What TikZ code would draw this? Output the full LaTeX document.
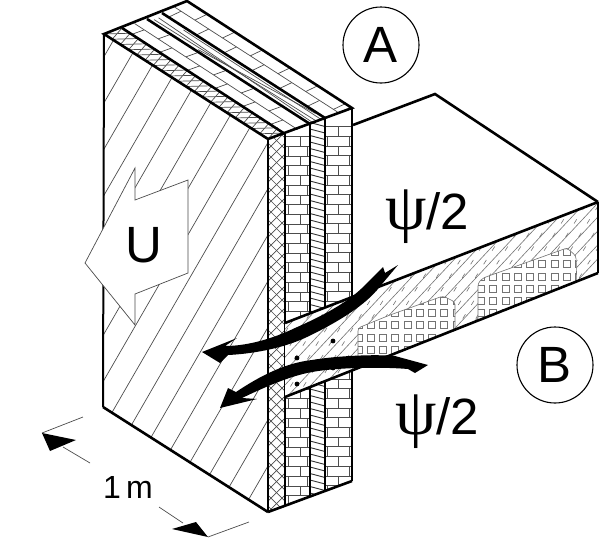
\documentclass[tikz,border=0pt]{standalone}
\usepackage{fontspec}
\setmainfont{Liberation Sans}
\newfontfamily\psifont{Liberation Serif}
\tikzset{
  heavy/.style={line width=2.6pt, line join=miter},
  medium/.style={line width=2pt},
  fine/.style={line width=0.7pt, black!70},
  finer/.style={line width=0.6pt, black!55},
  label/.style={inner sep=0pt, font=\fontsize{51}{51}\selectfont},
  ringed/.style={draw, circle, line width=1.1pt, minimum size=76pt, inner sep=0pt, font=\fontsize{51}{51}\selectfont},
  flow/.style={fill=black, draw=none}
}
\newcommand{\bigpsi}{{\psifont\fontsize{66}{51}\selectfont ψ}}
\begin{document}
\begin{tikzpicture}[x=1pt, y=-1pt]
  \useasboundingbox (0,0) rectangle (600,539);
  % corners of the wall
  \coordinate (fronttl) at (104,34);
  \coordinate (frontbl) at (103,407);
  \coordinate (cornert) at (268,139);
  \coordinate (cornerb) at (268,512);
  \coordinate (backt) at (187,1);
  \coordinate (endt) at (352,108);
  \coordinate (endb) at (352,481);
  % front face
  \begin{scope}
    \clip (fronttl) -- (cornert) -- (cornerb) -- (frontbl) -- cycle;
    \foreach \c in {110,136.7,...,570}
      \draw[fine] (\c,0) -- (\c-312,540);
  \end{scope}
  \draw[medium] (fronttl) -- (frontbl);
  \draw[heavy] (frontbl) -- (cornerb);
  % big arrow
  \draw[fine, fill=white, line join=miter] (85,263) -- (135,168) -- (135,200) -- (188,180)
    -- (188,273) -- (135,294) -- (135,325) -- cycle;
  % section, crossed layer
  \begin{scope}
    \clip (268,139) -- (285,134) -- (285,507) -- (268,512) -- cycle;
    \foreach \c in {110,121,...,520} {
      \draw[fine] (268,\c) -- (285,\c+17);
      \draw[fine] (285,\c) -- (268,\c+17);
    }
  \end{scope}
  % section, brick layers
  \begin{scope}
    \clip (285,134) -- (310,124) -- (310,497) -- (285,507) -- cycle;
    \foreach \c in {0,...,39}
      \draw[fine] (285,136.7+9.7*\c) -- (310,136.7+9.7*\c);
    \foreach \c in {0,2,...,38} {
      \draw[fine] (300.5,136.7+9.7*\c) -- (300.5,146.4+9.7*\c);
      \draw[fine] (288.7,146.4+9.7*\c) -- (288.7,156.1+9.7*\c);
      \draw[fine] (307.5,146.4+9.7*\c) -- (307.5,156.1+9.7*\c);
    }
  \end{scope}
  \begin{scope}
    \clip (325,118) -- (352,108) -- (352,481) -- (325,492) -- cycle;
    \foreach \c in {0,...,39}
      \draw[fine] (325,126.7+9.7*\c) -- (352,126.7+9.7*\c);
    \foreach \c in {0,2,...,38} {
      \draw[fine] (338.7,126.7+9.7*\c) -- (338.7,136.4+9.7*\c);
      \draw[fine] (327.5,136.4+9.7*\c) -- (327.5,146.1+9.7*\c);
      \draw[fine] (349,136.4+9.7*\c) -- (349,146.1+9.7*\c);
    }
  \end{scope}
  % section, wood layer
  \begin{scope}
    \clip (310,124) -- (325,118) -- (325,492) -- (310,497) -- cycle;
    \foreach \c in {116,122.5,...,500}
      \draw[line width=0.9pt, black!80] (310,\c) -- (325,\c+4);
  \end{scope}
  % top of the layers
  \begin{scope}[shift={(104,34)}, x={(164pt,-105pt)}, y={(18pt,6pt)}]
    \clip (0,0) -- (1,0) -- (1,1) -- (0,1) -- cycle;
    \foreach \c in {-2,...,20} {
      \draw[fine] (\c/20,0) -- (\c/20+0.05,1);
      \draw[fine] (\c/20+0.05,0) -- (\c/20,1);
    }
  \end{scope}
  \begin{scope}[shift={(122,28)}, x={(163pt,-106pt)}, y={(25pt,9pt)}]
    \draw[fine] (0,0.5) -- (1,0.5);
    \foreach \c in {0,...,5} {
      \draw[fine] (0.06+\c*0.17,0) -- (0.06+\c*0.17,0.5);
      \draw[fine] (0.145+\c*0.17,0.5) -- (0.145+\c*0.17,1);
    }
  \end{scope}
  \begin{scope}[shift={(147,19)}, x={(163pt,-105pt)}, y={(15pt,6pt)}]
    \draw[fine] (0.02,0.25) -- (1,0.45);
    \draw[fine] (0.02,0.55) -- (1,0.2);
    \draw[fine] (0.15,0.8) -- (1,0.75);
    \draw[fine] (0.3,0.15) -- (0.95,0.9);
  \end{scope}
  \begin{scope}[shift={(162,13)}, x={(163pt,-105pt)}, y={(25pt,12pt)}]
    \draw[fine] (0,0.5) -- (1,0.5);
    \foreach \c in {0,...,5} {
      \draw[fine] (0.04+\c*0.17,0) -- (0.04+\c*0.17,0.5);
      \draw[fine] (0.125+\c*0.17,0.5) -- (0.125+\c*0.17,1);
    }
  \end{scope}
  % outlines of the wall
  \draw[heavy] (fronttl) -- (backt) -- (endt) -- (cornert) -- cycle;
  \draw[heavy] (122,28) -- (285,134);
  \draw[heavy] (147,19) -- (310,124);
  \draw[heavy] (162,13) -- (325,118);
  \foreach \c/\d/\e in {268/139/512, 285/134/507, 310/124/497, 325/118/492, 352/108/481}
    \draw[heavy] (\c,\d) -- (\c,\e);
  \draw[heavy] (cornerb) -- (endb);
  % slab
  \draw[heavy] (353,125) -- (435,94) -- (598,202);
  \begin{scope}
    \clip (285,323) -- (598,202) -- (598,273) -- (285,397) -- cycle;
    \fill[white] (285,323) -- (598,202) -- (598,273) -- (285,397) -- cycle;
    \foreach \c in {580,593,...,860}
      \draw[finer] (\c-374,400) -- (\c-178,190);
    \foreach \c in {480,493,...,770}
      \draw[finer, dash pattern=on 5pt off 11pt] (\c-250,400) -- (\c-119,190);
    \draw[finer, fill=white, rounded corners=3pt] (358,380) -- (358,328) -- (390,315) -- (443,296)
      -- (455,302) -- (455,340) -- cycle;
    \draw[finer, fill=white, rounded corners=3pt] (478,330) -- (478,283) -- (483,278) -- (567,248)
      -- (576,256) -- (577,290) -- cycle;
    % mesh squares
    \clip (358,380) -- (358,328) -- (390,315) -- (443,296) -- (455,302) -- (455,340) -- cycle
      (478,330) -- (478,283) -- (483,278) -- (567,248) -- (576,256) -- (577,290) -- cycle;
    \foreach \i in {-2,...,18}
      \foreach \j in {0,...,10}
        \draw[fine, black!55] (367.2+12.25*\i,248.5+12.2*\j) rectangle ++(7,7);
  \end{scope}
  \draw[heavy] (285,323) -- (598,202);
  \draw[heavy] (598,202) -- (598,273);
  \draw[heavy] (285,397) -- (598,273);
  \foreach \c/\d in {333/341, 297/358, 297/384, 333/368}
    \fill (\c,\d) circle (2.4pt);
  % heat flows
  \fill[flow] (202,352) -- (237,338) -- (225,346) .. controls (245,346) and (270,340) .. (295,328)
    .. controls (320,317) and (348,303) .. (365,285) -- (383,267) -- (385,273) -- (398,265)
    -- (377,290) .. controls (362,308) and (332,325) .. (307,337)
    .. controls (282,349) and (250,354) .. (228,355) -- (220,363) -- cycle;
  \fill[flow] (220,408) -- (228,388) -- (236,392) .. controls (260,376) and (285,363) .. (312,360)
    .. controls (335,356) and (375,354) .. (395,356) -- (428,365) -- (415,373) -- (408,369)
    .. controls (385,367) and (340,367) .. (312,372) .. controls (290,376) and (265,387) .. (242,398)
    -- (257,399) -- cycle;
  % dimension
  \draw[fine] (83,417) -- (42,433);
  \draw[fine] (90,463) -- (63,447);
  \fill (42,433) -- (76,440) -- (50,451) -- cycle;
  \draw[fine] (159,507) -- (183,523);
  \draw[fine] (208,537) -- (249,522);
  \fill (208,537) -- (172,529) -- (196,522) -- cycle;
  % labels
  \node[ringed] (circleA) at (381,45) {A};
  \node[ringed] (circleB) at (555,365) {B};
  \node[label] (arrowU) at (144,245) {U};
  \node[label, anchor=west] (psiup) at (385,217) {\bigpsi/2};
  \node[label, anchor=west] (psidown) at (395,422) {\bigpsi/2};
  \node[inner sep=0pt, font=\fontsize{32}{32}\selectfont] (width) at (128,487) {1\,m};
\end{tikzpicture}
\end{document}
